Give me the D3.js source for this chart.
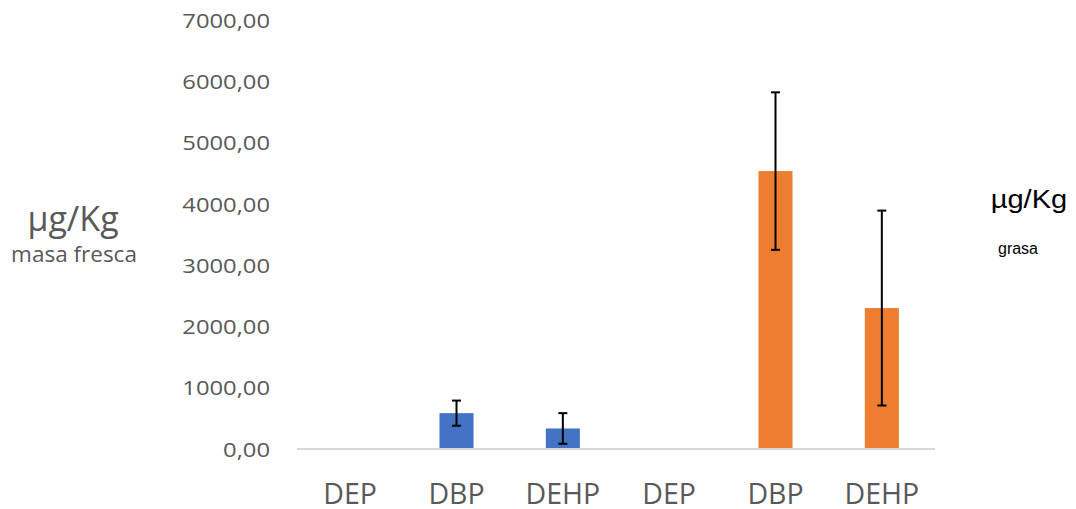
<!DOCTYPE html>
<html>
<head>
<meta charset="utf-8">
<script src="https://cdn.jsdelivr.net/npm/d3@7"></script>
<style>
  html, body { margin: 0; padding: 0; background: #ffffff; }
  svg { display: block; }
</style>
</head>
<body>
<svg id="chart" width="1076" height="509"></svg>
<script>
// ---- data ----
const categories = ["DEP", "DBP", "DEHP", "DEP ", "DBP ", "DEHP "];
const categoryLabels = ["DEP", "DBP", "DEHP", "DEP", "DBP", "DEHP"];
const seriesNames = ["masa fresca", "grasa"];
const seriesIndex = [0, 0, 0, 1, 1, 1];
const values = [0, 585, 335, 0, 4535, 2300];
const errors = [0, 205, 250, 0, 1285, 1590];
const yTicks = [0, 1000, 2000, 3000, 4000, 5000, 6000, 7000];
const yTickLabels = ["0,00", "1000,00", "2000,00", "3000,00", "4000,00", "5000,00", "6000,00", "7000,00"];
const seriesColors = ["#4472c4", "#ed7d31"];

// ---- layout ----
const svg = d3.select("#chart");
const plot = { left: 297, right: 935, top: 20, bottom: 449 };

const x = d3.scaleBand()
  .domain(categories)
  .range([plot.left, plot.right])
  .paddingInner(0.68)
  .paddingOuter(0.34);

const y = d3.scaleLinear()
  .domain([0, 7000])
  .range([plot.bottom, plot.top]);

// y tick labels (no axis line)
const yAxis = d3.axisLeft(y)
  .tickValues(yTicks)
  .tickSize(0)
  .tickPadding(0)
  .tickFormat((d, i) => yTickLabels[i]);

const yg = svg.append("g")
  .attr("transform", "translate(270,0)")
  .call(yAxis);
yg.select(".domain").remove();
yg.selectAll("text")
  .attr("font-family", "'Open Sans', sans-serif")
  .attr("font-size", 20.5)
  .attr("fill", "#595959")
  .attr("dy", "0.35em")
  .style("transform-box", "fill-box")
  .style("transform-origin", "right center")
  .style("transform", "scaleX(1.16)");

// bars
svg.append("g")
  .selectAll("rect")
  .data(categories)
  .join("rect")
  .attr("x", d => x(d))
  .attr("width", x.bandwidth())
  .attr("y", (d, i) => y(values[i]))
  .attr("height", (d, i) => y(0) - y(values[i]))
  .attr("fill", (d, i) => seriesColors[seriesIndex[i]]);

// baseline
svg.append("line")
  .attr("x1", plot.left)
  .attr("x2", plot.right)
  .attr("y1", y(0))
  .attr("y2", y(0))
  .attr("stroke", "#d9d9d9")
  .attr("stroke-width", 2);

// error bars
const eg = svg.append("g").attr("stroke", "#000").attr("stroke-width", 2);
categories.forEach((c, i) => {
  if (!errors[i]) return;
  const cx = x(c) + x.bandwidth() / 2;
  const top = y(values[i] + errors[i]);
  const bot = y(values[i] - errors[i]);
  eg.append("line").attr("x1", cx).attr("x2", cx).attr("y1", top).attr("y2", bot);
  eg.append("line").attr("x1", cx - 4.5).attr("x2", cx + 4.5).attr("y1", top).attr("y2", top);
  eg.append("line").attr("x1", cx - 4.5).attr("x2", cx + 4.5).attr("y1", bot).attr("y2", bot);
});

// x labels
const xAxis = d3.axisBottom(x).tickSize(0).tickPadding(0).tickFormat((d, i) => categoryLabels[i]);
const xg = svg.append("g").attr("transform", "translate(0,504)").call(xAxis);
xg.select(".domain").remove();
xg.selectAll("text")
  .attr("font-family", "'Open Sans', sans-serif")
  .attr("font-size", 28.5)
  .attr("fill", "#595959")
  .attr("y", 0)
  .attr("dy", 0);

// left axis title
svg.append("text")
  .attr("x", 73).attr("y", 231)
  .attr("text-anchor", "middle")
  .attr("font-family", "'Open Sans', sans-serif")
  .attr("font-size", 34)
  .attr("fill", "#595959")
  .text("µg/Kg");
svg.append("text")
  .attr("x", 74).attr("y", 261.5)
  .attr("text-anchor", "middle")
  .attr("font-family", "'Open Sans', sans-serif")
  .attr("font-size", 22.5)
  .attr("fill", "#595959")
  .text(seriesNames[0]);

// right axis title
svg.append("text")
  .attr("x", 1029).attr("y", 208)
  .attr("text-anchor", "middle")
  .attr("font-family", "'Liberation Sans', Arial, sans-serif")
  .attr("font-size", 26)
  .attr("fill", "#000")
  .style("transform-box", "fill-box")
  .style("transform-origin", "center")
  .style("transform", "scaleX(1.12)")
  .text("µg/Kg");
svg.append("text")
  .attr("x", 1018).attr("y", 254)
  .attr("text-anchor", "middle")
  .attr("font-family", "'Liberation Sans', Arial, sans-serif")
  .attr("font-size", 16)
  .attr("fill", "#000")
  .text(seriesNames[1]);
</script>
</body>
</html>
